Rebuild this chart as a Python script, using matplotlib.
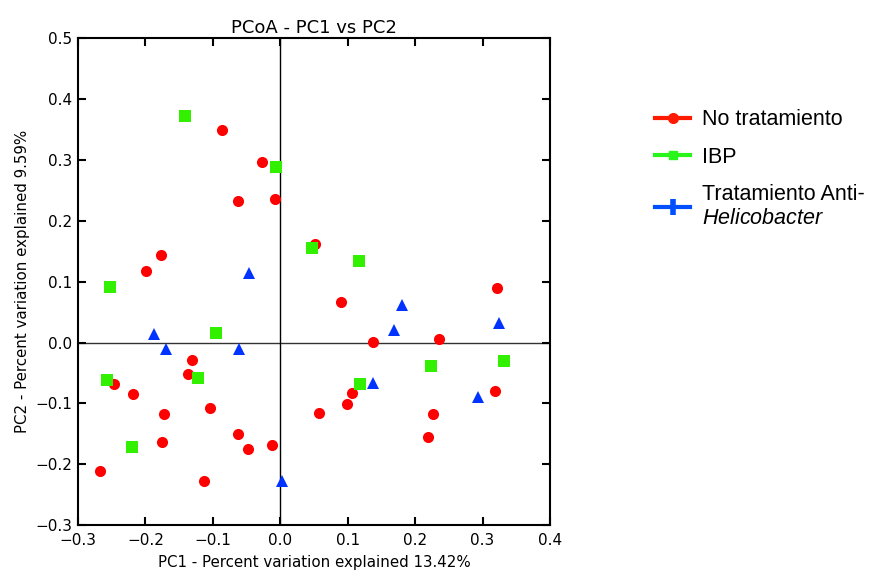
import matplotlib
matplotlib.use("Agg")
import matplotlib.pyplot as plt
from matplotlib.lines import Line2D

# coordenadas PCoA por grupo
no_trat_pc1 = [-0.267, -0.247, -0.219, -0.199, -0.177, -0.173, -0.175, -0.131, -0.137,
               -0.105, -0.113, -0.063, -0.048, -0.013, -0.086, -0.027, -0.063, -0.008,
               0.052, 0.090, 0.138, 0.236, 0.321, 0.107, 0.099, 0.058, 0.227, 0.219, 0.319]
no_trat_pc2 = [-0.211, -0.069, -0.085, 0.117, 0.144, -0.117, -0.163, -0.028, -0.051,
               -0.107, -0.227, -0.150, -0.175, -0.168, 0.349, 0.297, 0.233, 0.236,
               0.162, 0.067, 0.001, 0.005, 0.090, -0.083, -0.101, -0.116, -0.117, -0.155, -0.080]

ibp_pc1 = [-0.142, -0.006, -0.253, -0.096, -0.257, -0.122, -0.220,
           0.047, 0.116, 0.224, 0.332, 0.118]
ibp_pc2 = [0.373, 0.289, 0.091, 0.015, -0.061, -0.059, -0.171,
           0.156, 0.134, -0.038, -0.031, -0.069]

anti_hp_pc1 = [-0.187, -0.169, -0.061, -0.047, 0.002, 0.181, 0.168, 0.324, 0.137, 0.293]
anti_hp_pc2 = [0.014, -0.010, -0.010, 0.115, -0.227, 0.062, 0.020, 0.032, -0.066, -0.090]

grupos = ["No tratamiento", "IBP", "Tratamiento Anti-\n$\\mathit{Helicobacter}$"]
colores = ["#ff0000", "#33f000", "#0033ff"]
colores_leyenda = ["#ff1a00", "#2af51a", "#0050ff"]

plt.rcParams["mathtext.fontset"] = "custom"
plt.rcParams["mathtext.it"] = "Liberation Sans:italic"
plt.rcParams["mathtext.rm"] = "Liberation Sans"

fig = plt.figure(figsize=(8.71, 5.70), dpi=100)
ax = fig.add_axes([0.0896, 0.0789, 0.5419, 0.8539])

ax.axhline(0, color="#333333", lw=1, zorder=1)
ax.axvline(0, color="black", lw=1, zorder=1)

ax.plot(no_trat_pc1, no_trat_pc2, "o", color=colores[0], ms=8, mew=0, zorder=3)
ax.plot(ibp_pc1, ibp_pc2, "s", color=colores[1], ms=8, mew=0, zorder=3)
ax.plot(anti_hp_pc1, anti_hp_pc2, "^", color=colores[2], ms=8, mew=0, zorder=3)

ax.set_xlim(-0.3, 0.4)
ax.set_ylim(-0.3, 0.5)
ax.set_xticks([-0.3, -0.2, -0.1, 0.0, 0.1, 0.2, 0.3, 0.4])
ax.set_yticks([-0.3, -0.2, -0.1, 0.0, 0.1, 0.2, 0.3, 0.4, 0.5])
ax.tick_params(direction="in", top=True, right=True, length=6, width=1.5,
               labelsize=11)
ax.tick_params(axis="x", pad=6)
ax.tick_params(axis="y", pad=4)
for s in ax.spines.values():
    s.set_linewidth(1.5)

ax.set_title("PCoA - PC1 vs PC2", fontsize=13, pad=4)
ax.set_xlabel("PC1 - Percent variation explained 13.42%", fontsize=10.8, labelpad=5)
ax.set_ylabel("PC2 - Percent variation explained 9.59%", fontsize=10.8, labelpad=4)

handles = [
    Line2D([], [], color=colores_leyenda[0], lw=3, marker="o", ms=7),
    Line2D([], [], color=colores_leyenda[1], lw=3, marker="s", ms=6),
    Line2D([], [], color=colores_leyenda[2], lw=3, marker="|", ms=12, mew=4),
]
fig.legend(handles, grupos, loc="upper left", bbox_to_anchor=(0.73, 0.842),
           frameon=False, prop={"family": "Liberation Sans", "size": 15.5},
           handlelength=1.63, handletextpad=0.56, labelspacing=0.75)

fig.savefig("out.png", dpi=100)
